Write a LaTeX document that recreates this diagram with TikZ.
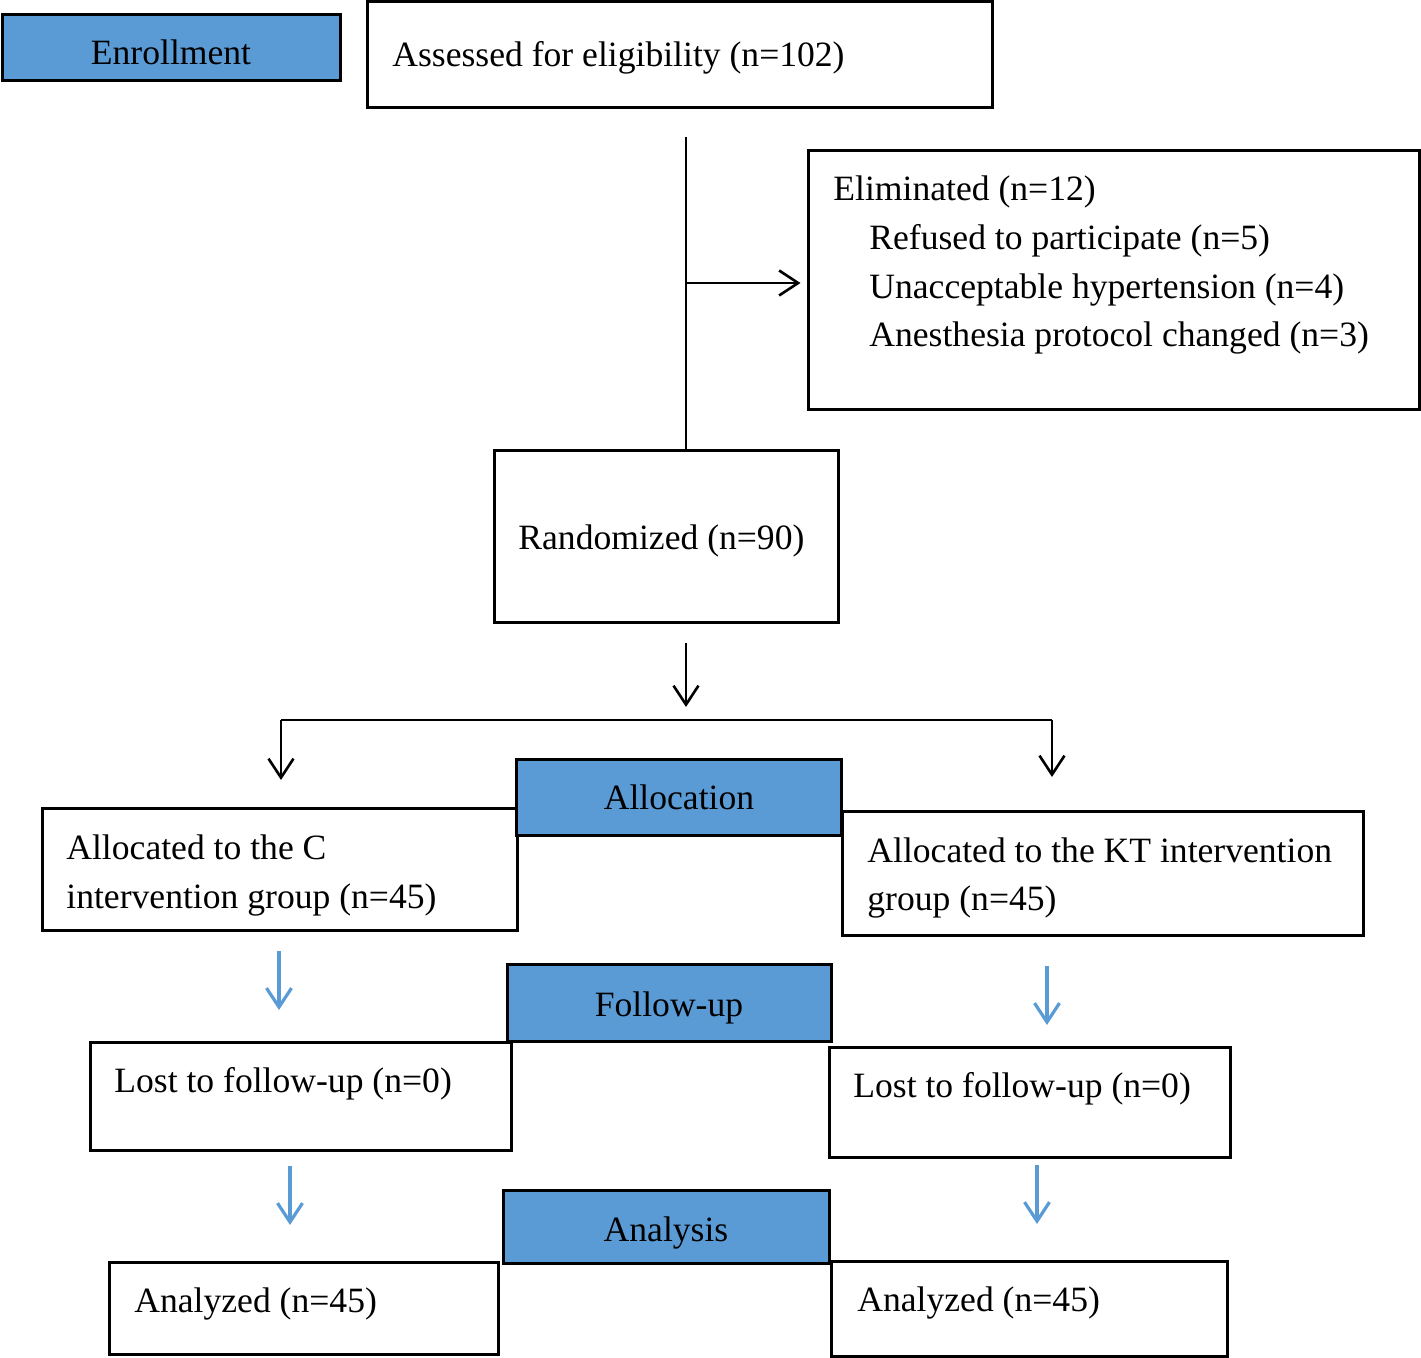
\documentclass[tikz,border=0pt]{standalone}
\usepackage{fontspec}
\setmainfont{Liberation Serif}
\usetikzlibrary{arrows.meta,fit}
\definecolor{stageblue}{HTML}{5B9BD5}
\tikzset{
  box/.style={
    % The shape:
    rectangle,
    % The border:
    draw=black,
    line width=1.5pt,
    % no padding, the box is fitted to its corners
    inner sep=0pt,
  },
  stage/.style={
    box,
    % The filling:
    fill=stageblue,
  },
  words/.style={
    % Font
    font=\fontsize{17.8}{24.4}\selectfont,
    inner sep=0pt,
    % placed at the baseline of the last line
    anchor=base west,
    align=left,
  },
  line/.style={line width=1.3pt},
  flow/.style={line, -{Straight Barb[length=9.5pt,width=12.5pt]}},
  blueflow/.style={flow, draw=stageblue, line width=1.6pt},
}

\begin{document}
\begin{tikzpicture}[x=0.5pt, y=-0.5pt]

  \useasboundingbox (0,0) rectangle (1421,1358);

  % the boxes
  \node (assess) [box, fit={(367,2) (992,108)}] {};
  \node (elim) [box, fit={(808,151) (1419,410)}] {};
  \node (random) [box, fit={(494,451) (838,623)}] {};
  \node (alloc c) [box, fit={(42,809) (517,930)}] {};
  \node (alloc kt) [box, fit={(842,812) (1363,935)}] {};
  \node (lost c) [box, fit={(90,1042) (511,1150)}] {};
  \node (lost kt) [box, fit={(829,1047) (1230,1157)}] {};
  \node (analyzed c) [box, fit={(109,1262) (498,1354)}] {};
  \node (analyzed kt) [box, fit={(831,1261) (1227,1356)}] {};

  % the stages, drawn last so that they cover the borders
  \node (enroll) [stage, fit={(2,15) (340,81)}] {};
  \node (alloc) [stage, fit={(516,760) (841,836)}] {};
  \node (follow) [stage, fit={(507,964) (831,1041)}] {};
  \node (analysis) [stage, fit={(503,1190) (829,1263)}] {};

  % the texts
  \node (enroll text) [words, anchor=base] at (171,65) {Enrollment};
  \node (alloc text) [words, anchor=base] at (679,810) {Allocation};
  \node (follow text) [words, anchor=base] at (669,1016) {Follow-up};
  \node (analysis text) [words, anchor=base] at (666,1241) {Analysis};

  \node (assess text) [words] at (392,67) {Assessed for eligibility (n=102)};
  \node (elim text) [words] at (833,347) {Eliminated (n=12)\\
    \hspace{18pt}Refused to participate (n=5)\\
    \hspace{18pt}Unacceptable hypertension (n=4)\\
    \hspace{18pt}Anesthesia protocol changed (n=3)};
  \node (random text) [words] at (518,550) {Randomized (n=90)};
  \node (alloc c text) [words] at (66,908) {Allocated to the C\\intervention group (n=45)};
  \node (alloc kt text) [words] at (867,911) {Allocated to the KT intervention\\group (n=45)};
  \node (lost c text) [words] at (114,1092) {Lost to follow-up (n=0)};
  \node (lost kt text) [words] at (853,1097) {Lost to follow-up (n=0)};
  \node (analyzed c text) [words] at (134,1312) {Analyzed (n=45)};
  \node (analyzed kt text) [words] at (857,1311) {Analyzed (n=45)};

  % from assessed to randomized
  \coordinate (trunk top) at (686,137);
  \coordinate (branch) at (686,283);
  \draw [line] (trunk top) -- (trunk top |- random.north);
  \draw [flow] (branch) -- ([xshift=-3pt]branch -| elim.west);

  % from randomized to the two groups
  \coordinate (split top) at (686,643);
  \coordinate (split left) at (281,720);
  \coordinate (split right) at (1052,720);
  \draw [flow] (split top) -- ++(0,64);
  \draw [line] (split left) -- (split right);
  \draw [flow] (split left) -- ++(0,60);
  \draw [flow] (split right) -- ++(0,57);

  % down through follow-up and analysis
  \coordinate (c step1) at (279,951);
  \coordinate (kt step1) at (1047,966);
  \coordinate (c step2) at (290,1166);
  \coordinate (kt step2) at (1037,1165);
  \draw [blueflow] (c step1) -- ++(0,59);
  \draw [blueflow] (kt step1) -- ++(0,59);
  \draw [blueflow] (c step2) -- ++(0,59);
  \draw [blueflow] (kt step2) -- ++(0,59);

\end{tikzpicture}
\end{document}
